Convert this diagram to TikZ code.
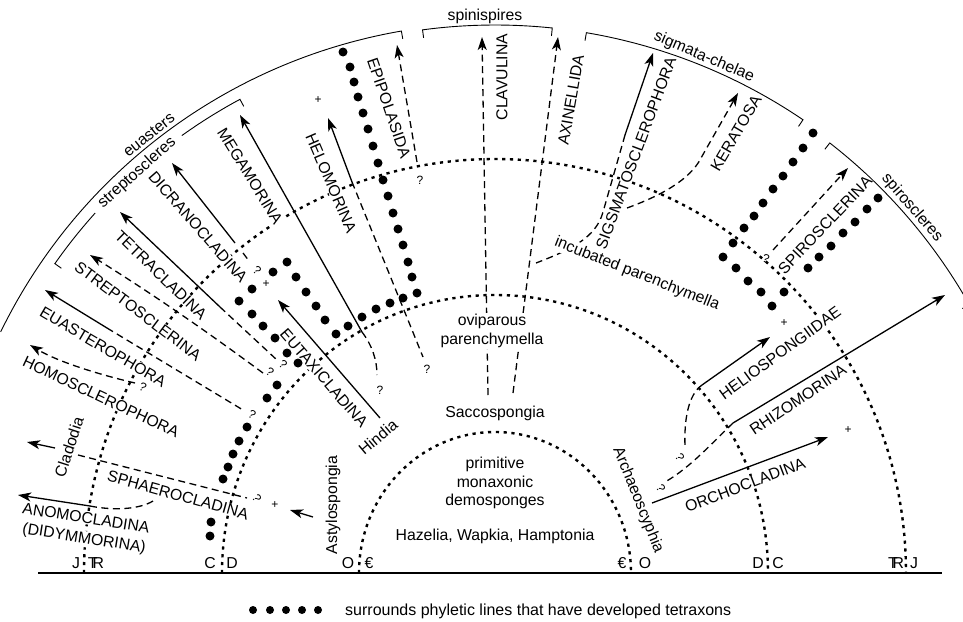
\documentclass[tikz,border=0pt]{standalone}
\usepackage{fontspec}
\setmainfont{Liberation Sans}
\usetikzlibrary{arrows.meta,calc}
\begin{document}
\begin{tikzpicture}[x=1pt,y=-1pt,
  lbl/.style={font=\fontsize{15.8}{19}\selectfont, inner sep=0pt},
  lblw/.style={lbl, fill=white, inner sep=0.6pt},
  qm/.style={font=\fontsize{12}{13}\selectfont, inner sep=0pt},
  dotarc/.style={line width=2.4pt, dash pattern=on 3.2pt off 4.6pt},
  dashline/.style={line width=1.3pt, dash pattern=on 7pt off 4.5pt},
  solidline/.style={line width=1.3pt},
  tip/.style={-{Stealth[length=13pt,width=9pt,inset=3.5pt]}},
  bracket/.style={line width=0.9pt},
]
\useasboundingbox (0,0) rectangle (963,621);
\coordinate (O) at (495,573);

% baseline
\coordinate (bl) at (38,573);
\coordinate (br) at (942,573);
\draw[line width=2pt] (bl) -- (br);

% dotted time arcs
\draw[dotarc] (359,573) arc[start angle=180,end angle=360,x radius=136,y radius=141];
\draw[dotarc] (222,573) arc[start angle=180,end angle=360,x radius=273,y radius=278];
\draw[dotarc] (84,573) arc[start angle=180,end angle=360,x radius=411,y radius=414];

% bracket arcs
\draw[bracket] ($(O)+(-154:550)$) arc[start angle=-154,end angle=-99.8,radius=550] -- ($(O)+(-99.8:542)$);
\draw[bracket] ($(O)+(-144.9:530)$) -- ($(O)+(-144.9:538)$) arc[start angle=-144.9,end angle=-138,radius=538];
\draw[bracket] ($(O)+(-125.6:538)$) arc[start angle=-125.6,end angle=-118.3,radius=538] -- ($(O)+(-118.3:530)$);
\draw[bracket] ($(O)+(-97.6:540)$) -- ($(O)+(-97.6:548)$) arc[start angle=-97.6,end angle=-84,radius=548] -- ($(O)+(-84:540)$);
\draw[bracket] ($(O)+(-80.4:540)$) -- ($(O)+(-80.4:548)$) arc[start angle=-80.4,end angle=-55.8,radius=548] -- ($(O)+(-55.8:540)$);
\draw[bracket] ($(O)+(-52.1:537)$) -- ($(O)+(-52.1:545)$) arc[start angle=-52.1,end angle=-29.5,radius=545] -- ($(O)+(-29.5:537)$);

\node[lbl, rotate=38.3, anchor=south] (euasters) at ($(O)+(-128.3:553)$) {euasters};
\node[lbl, rotate=41.8] (streptoscl) at ($(O)+(-131.8:537)$) {streptoscleres};
\node[lbl] (spinisp) at (485,16) {spinispires};
\node[lbl, rotate=-23] (sigmata) at (704,57) {sigmata-chelae};
\node[lbl, rotate=-49] (spirosc) at (912,208) {spiroscleres};

% ---------- labels (white backing interrupts the time arcs) ----------
\node[lblw, rotate=-9] (anoL) at (86,518) {ANOMOCLADINA};
\node[lblw, rotate=-9] (didL) at (84,539) {(DIDYMMORINA)};
\node[lblw, rotate=72] (claL) at (69,447) {Cladodia};
\node[lblw, rotate=-15.6] (sphL) at (178,495) {SPHAEROCLADINA};
\node[lblw, rotate=-25] (homL) at (101,397) {HOMOSCLEROPHORA};
\node[lblw, rotate=-30.5] (euaL) at (103,347) {EUASTEROPHORA};
\node[lblw, rotate=-37] (strL) at (138,311) {STREPTOSCLERINA};
\node[lblw, rotate=-44] (tetL) at (161,275) {TETRACLADINA};
\node[lblw, rotate=-49] (dicL) at (198,227) {DICRANOCLADINA};
\node[lblw, rotate=-58.5] (megL) at (250,176) {MEGAMORINA};
\node[lblw, rotate=-66.7] (helL) at (331,183) {HELOMORINA};
\node[lblw, rotate=-71] (epiL) at (389,108) {EPIPOLASIDA};
\node[lblw, rotate=90] (clvL) at (502,77) {CLAVULINA};
\node[lblw, rotate=80] (axiL) at (571,100) {AXINELLIDA};
\node[lblw, rotate=69.5] (sigL) at (636,153) {SIGSMATOSCLEROPHORA};
\node[lblw, rotate=59.5] (kerL) at (736,133) {KERATOSA};
\node[lblw, rotate=46.5] (sprL) at (825,225) {SPIROSCLERINA};
\node[lblw, rotate=36] (hlsL) at (780,353) {HELIOSPONGIIDAE};
\node[lblw, rotate=34] (rhiL) at (798,400) {RHIZOMORINA};
\node[lblw, rotate=21] (orcL) at (745,485) {ORCHOCLADINA};
\node[lblw, rotate=-49] (eutL) at (324,378) {EUTAXICLADINA};
\node[lblw, rotate=40] (hinL) at (378,437) {Hindia};
\node[lblw, rotate=90] (astL) at (333,505) {Astylospongia};
\node[lblw, rotate=-68] (arcL) at (638,500) {Archaeoscyphia};
\node[lbl] (sacL) at (495,413) {Saccospongia};
\node[lbl, align=center] (primL) at (495,483) {primitive\\[-0.5pt]monaxonic\\[-0.5pt]demosponges};
\node[lbl] (hazL) at (495,536) {Hazelia, Wapkia, Hamptonia};

% ---------- connectors ----------
% ANOMOCLADINA
\coordinate (ano0) at (90,506); \coordinate (ano1) at (18,495); \coordinate (ano2) at (153,501);
\draw[solidline,tip] (ano0) -- (ano1);
\draw[dashline] (ano0) .. controls (115,511) and (140,509) .. (ano2);
% Cladodia / SPHAEROCLADINA
\coordinate (cla0) at (55,448); \coordinate (cla1) at (27,442);
\draw[solidline,tip] (cla0) -- (cla1);
\coordinate (sph0) at (78,455); \coordinate (sph1) at (247,498);
\draw[dashline] (sph0) -- (sph1);
\coordinate (ast0) at (313,517); \coordinate (ast1) at (290,510);
\draw[solidline,tip] (ast0) -- (ast1);
% HOMOSCLEROPHORA
\coordinate (hom0) at (135,383); \coordinate (hom1) at (30,345);
\draw[dashline,tip] (hom0) .. controls (105,376) and (60,363) .. (hom1);
% EUASTEROPHORA
\coordinate (eua0) at (107,328); \coordinate (eua1) at (45,290); \coordinate (eua2) at (243,410);
\draw[solidline,tip] (eua0) -- (eua1);
\draw[dashline] (eua0) -- (eua2);
% STREPTOSCLERINA
\coordinate (str0) at (263,373); \coordinate (str1) at (90,255);
\draw[dashline,tip] (str0) .. controls (225,345) and (170,305) .. (str1);
% TETRACLADINA
\coordinate (tet0) at (220,307); \coordinate (tet1) at (120,212); \coordinate (tet2) at (277,360);
\draw[solidline,tip] (tet0) -- (tet1);
\draw[dashline] (tet0) -- (tet2);
% DICRANOCLADINA
\coordinate (dic0) at (235,243); \coordinate (dic1) at (172,163);
\coordinate (dic2) at (243,253); \coordinate (dic3) at (249,261);
\draw[solidline,tip] (dic0) -- (dic1);
\draw[dashline] (dic2) -- (dic3);
% MEGAMORINA
\coordinate (meg0) at (362,332); \coordinate (meg1) at (240,115); \coordinate (meg2) at (377,375);
\draw[solidline,tip] (meg0) -- (meg1);
\draw[dashline] (meg0) .. controls (372,345) and (377,360) .. (meg2);
% HELOMORINA
\coordinate (hel0) at (352,182); \coordinate (hel1) at (328,118); \coordinate (hel2) at (423,357);
\draw[solidline,tip] (hel0) -- (hel1);
\draw[dashline] (hel0) -- (hel2);
% EUTAXICLADINA
\coordinate (eut0) at (380,418); \coordinate (eut1) at (278,300);
\draw[solidline,tip] (eut0) -- (eut1);
% EPIPOLASIDA
\coordinate (epi0) at (417,162); \coordinate (epi1) at (397,45);
\draw[dashline,tip] (epi0) -- (epi1);
% CLAVULINA, AXINELLIDA
\coordinate (clv0) at (488,395); \coordinate (clv1) at (482,37);
\draw[dashline,tip] (clv0) -- (clv1);
\coordinate (axi0) at (513,393); \coordinate (axi1) at (558,37);
\draw[dashline,tip] (axi0) -- (axi1);
% SIGSMATOSCLEROPHORA
\coordinate (sig0) at (625,135); \coordinate (sig1) at (653,53); \coordinate (sig2) at (536,263);
\draw[solidline,tip] (sig0) -- (sig1);
\draw[dashline] (sig0) -- (603,212) .. controls (596,238) and (570,250) .. (sig2);
% KERATOSA
\coordinate (ker0) at (627,208); \coordinate (ker1) at (738,93);
\draw[dashline,tip] (ker0) .. controls (660,196) and (690,180) .. (701,158) -- (ker1);
% SPIROSCLERINA
\coordinate (spr0) at (773,250); \coordinate (spr1) at (848,168);
\draw[dashline,tip] (spr0) -- (spr1);
% HELIOSPONGIIDAE
\coordinate (hls0) at (702,385); \coordinate (hls1) at (770,337); \coordinate (hls2) at (685,447);
\draw[solidline,tip] (hls0) -- (hls1);
\draw[dashline] (hls0) .. controls (688,395) and (684,420) .. (hls2);
% RHIZOMORINA
\coordinate (rhi0) at (733,423); \coordinate (rhi1) at (945,295); \coordinate (rhi2) at (665,482);
\draw[solidline,tip] (rhi0) -- (rhi1);
\draw[dashline] (rhi0) .. controls (715,440) and (690,468) .. (rhi2);
% ORCHOCLADINA
\coordinate (orc0) at (652,503); \coordinate (orc1) at (828,437);
\draw[solidline,tip] (orc0) -- (orc1);

% labels that interrupt connectors
\node[lbl, align=center, fill=white, inner sep=1pt] (oviL) at (492,331) {oviparous\\parenchymella};
\node[lbl, rotate=-21.5, fill=white, inner sep=1pt] (incL) at (637,274) {incubated parenchymella};

% question marks and crosses
\node[qm, rotate=-25] (q1) at (143,387) {?};
\node[qm, rotate=-30] (q2) at (252,415) {?};
\node[qm, rotate=-35] (q3) at (270,372) {?};
\node[qm, rotate=-40] (q4) at (283,364) {?};
\node[qm, rotate=-40] (q5) at (257,270) {?};
\node[qm, rotate=-60] (q6) at (257,498) {?};
\node[qm] (q7) at (380,390) {?};
\node[qm] (q8) at (427,369) {?};
\node[qm] (q9) at (420,180) {?};
\node[qm, rotate=-20] (q10) at (766,259) {?};
\node[qm, rotate=-60] (q11) at (680,457) {?};
\node[qm, rotate=-60] (q12) at (661,488) {?};
\node[qm] (p1) at (275,505) {+};
\node[qm] (p2) at (266,284) {+};
\node[qm] (p3) at (318,100) {+};
\node[qm] (p4) at (784,323) {+};
\node[qm] (p5) at (848,430) {+};

% ---------- tetraxon dot chains ----------
\foreach \x/\y in {343/52, 350/67, 354/82, 358/97, 363/113, 368/129, 373/146, 378/163,
  383/180, 388/196, 393/213, 398/229, 403/245, 408/262, 412/277, 417/293, 403/298,
  390/303, 376/309, 362/317, 348/326, 336/334, 325/320, 316/306, 306/292, 296/277,
  287/262, 273/272, 252/289, 239/301, 252/314, 263/326, 275/338, 287/353, 298/363,
  277/385, 267/398, 247/427, 239/441, 233/454, 228/467, 223/479, 211/522, 210/536}
  \fill (\x,\y) circle[radius=4.5];
\foreach \x/\y in {813/133, 803/148, 793/162, 783/176, 773/189, 763/203, 754/216,
  744/228, 733/243, 723/257, 736/268, 748/281, 761/292, 772/306, 784/292, 808/268,
  819/257, 831/246, 843/233, 855/222, 867/209, 878/198}
  \fill (\x,\y) circle[radius=4.5];

% ---------- epoch labels ----------
\node[lbl, anchor=base] (eJl) at (76,568) {J};
\node[lbl, anchor=base] (eTl) at (96,568) {T\kern-0.32em R};
\node[lbl, anchor=base] (eCl) at (210,568) {C};
\node[lbl, anchor=base] (eDl) at (232,568) {D};
\node[lbl, anchor=base] (eOl) at (348,568) {O};
\node[lbl, anchor=base] (eEl) at (369,568) {€};
\node[lbl, anchor=base] (eEr) at (622,568) {€};
\node[lbl, anchor=base] (eOr) at (645,568) {O};
\node[lbl, anchor=base] (eDr) at (758,568) {D};
\node[lbl, anchor=base] (eCr) at (778,568) {C};
\node[lbl, anchor=base] (eTr) at (896,568) {T\kern-0.32em R};
\node[lbl, anchor=base] (eJr) at (914,568) {J};

% ---------- legend ----------
\foreach \x in {253,270,286,302,318} \fill (\x,610) circle[radius=4];
\node[lbl, anchor=base west, font=\fontsize{16}{18}\selectfont] (legend) at (345,615)
  {surrounds phyletic lines that have developed tetraxons};
\end{tikzpicture}
\end{document}
